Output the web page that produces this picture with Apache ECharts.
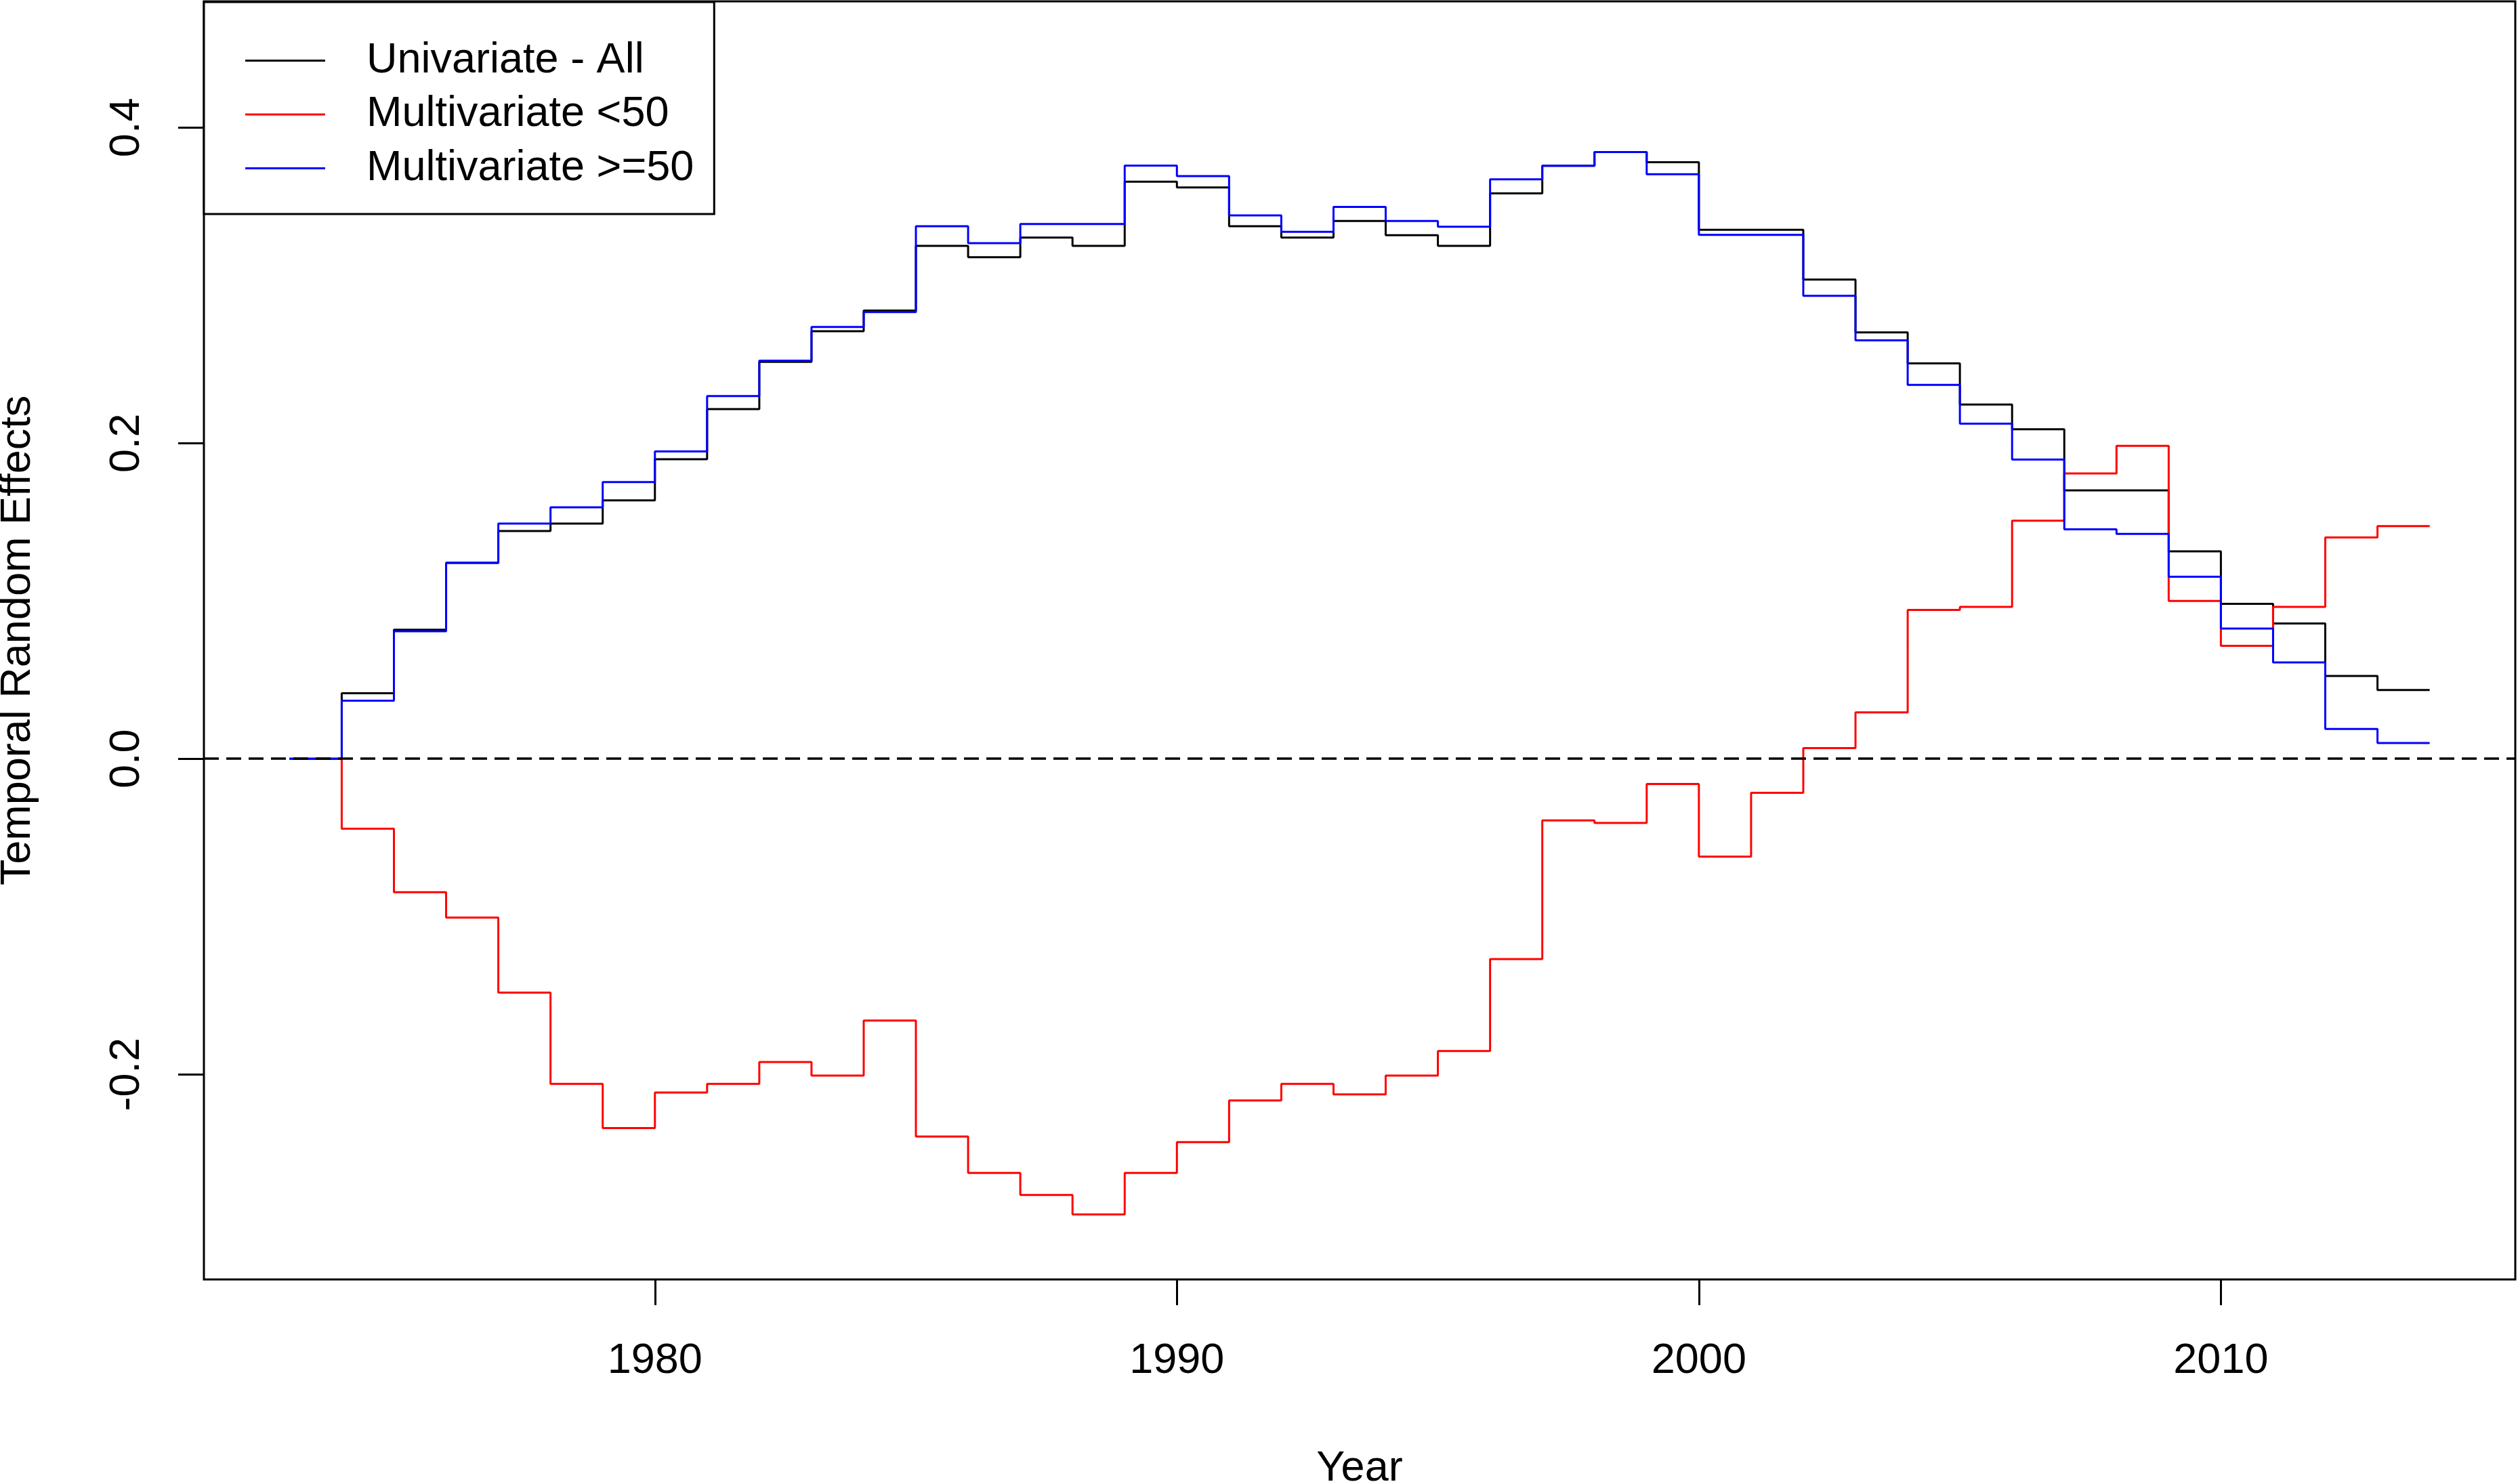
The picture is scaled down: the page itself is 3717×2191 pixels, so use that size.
<!DOCTYPE html>
<html>
<head>
<meta charset="utf-8">
<title>Temporal Random Effects</title>
<script src="https://cdn.jsdelivr.net/npm/echarts@6/dist/echarts.min.js"></script>
<style>
  html, body { margin: 0; padding: 0; background: #fff; }
  #chart { width: 3717px; height: 2191px; }
</style>
</head>
<body>
<div id="chart"></div>
<script>
// step data: value stored at a year is the level between the previous year and that year
var years = [1973, 1974, 1975, 1976, 1977, 1978, 1979, 1980, 1981, 1982, 1983, 1984, 1985, 1986,
  1987, 1988, 1989, 1990, 1991, 1992, 1993, 1994, 1995, 1996, 1997, 1998, 1999, 2000,
  2001, 2002, 2003, 2004, 2005, 2006, 2007, 2008, 2009, 2010, 2011, 2012, 2013, 2014]

var univariateAll = [0, 0, 0.0415, 0.0818, 0.1242, 0.1443, 0.1490, 0.1638, 0.1898, 0.2216,
  0.2515, 0.2710, 0.2840, 0.3250, 0.3179, 0.3303, 0.3250, 0.3657, 0.3621, 0.3375, 0.3303,
  0.3408, 0.3318, 0.3250, 0.3583, 0.3758, 0.3845, 0.3780, 0.3352, 0.3352, 0.3037, 0.2702,
  0.2506, 0.2245, 0.2088, 0.1701, 0.1701, 0.1314, 0.0982, 0.0857, 0.0525, 0.0436]

var multiLt50 = [0, 0, -0.0443, -0.0846, -0.1007, -0.1482, -0.2061, -0.2341, -0.2115, -0.2061,
  -0.1922, -0.2008, -0.1659, -0.2394, -0.2625, -0.2765, -0.2888, -0.2625, -0.2430, -0.2166,
  -0.2061, -0.2127, -0.2008, -0.1852, -0.1270, -0.0391, -0.0407, -0.0160, -0.0620, -0.0216,
  0.0068, 0.0294, 0.0943, 0.0963, 0.1509, 0.1808, 0.1983, 0.1000, 0.0716, 0.0963, 0.1402, 0.1474]

var multiGe50 = [0, 0, 0.0368, 0.0808, 0.1242, 0.1490, 0.1594, 0.1753, 0.1948, 0.2299,
  0.2523, 0.2736, 0.2831, 0.3375, 0.3268, 0.3389, 0.3389, 0.3759, 0.3693, 0.3444, 0.3339,
  0.3497, 0.3408, 0.3372, 0.3672, 0.3758, 0.3845, 0.3704, 0.3320, 0.3320, 0.2934, 0.2652,
  0.2369, 0.2124, 0.1896, 0.1454, 0.1425, 0.1154, 0.0825, 0.0611, 0.0189, 0.0100]

var xTicks = [1980, 1990, 2000, 2010]
var yTicks = [-0.2, 0.0, 0.2, 0.4]

var FONT = "'Liberation Sans', Arial, sans-serif"
var FS = 63

function pairs(vals) {
  return years.map(function (y, i) { return [y, vals[i]] })
}

function stepSeries(name, color, vals, z) {
  return {
    name: name,
    type: 'line',
    step: 'start',
    data: pairs(vals),
    color: color,
    showSymbol: false,
    symbol: 'none',
    z: z,
    lineStyle: { color: color, width: 3 }
  }
}

var chart = echarts.init(document.getElementById('chart'), null, { renderer: 'canvas' })

var blue = stepSeries('Multivariate >=50', '#0000FF', multiGe50, 4)
// dashed reference line at zero
blue.markLine = {
  silent: true,
  symbol: 'none',
  label: { show: false },
  lineStyle: { color: '#000', width: 3.5, type: [22, 11] },
  data: [{ yAxis: 0 }]
}

chart.setOption({
  animation: false,
  backgroundColor: '#fff',
  textStyle: { fontFamily: FONT },
  grid: {
    left: 301,
    top: 2,
    width: 3412,
    height: 1887,
    show: true,
    borderColor: '#000',
    borderWidth: 3,
    backgroundColor: 'transparent',
    containLabel: false,
    outerBoundsMode: 'none'
  },
  legend: {
    orient: 'vertical',
    left: 301,
    top: 3,
    padding: [55, 30, 36, 61],
    itemGap: 16.5,
    itemWidth: 118,
    itemHeight: 3,
    icon: 'rect',
    borderColor: '#000',
    borderWidth: 3,
    borderRadius: 0,
    backgroundColor: '#fff',
    selectedMode: false,
    itemStyle: { borderWidth: 0 },
    textStyle: {
      fontFamily: FONT,
      fontSize: FS,
      color: '#000',
      padding: [0, 0, 0, 56]
    },
    data: ['Univariate - All', 'Multivariate <50', 'Multivariate >=50']
  },
  xAxis: {
    type: 'value',
    min: 1971.36,
    max: 2015.64,
    name: 'Year',
    nameLocation: 'middle',
    nameGap: 248,
    nameTextStyle: { fontFamily: FONT, fontSize: FS, color: '#000' },
    splitLine: { show: false },
    axisLine: { show: false, onZero: false },
    axisTick: {
      show: true,
      customValues: xTicks,
      length: 38,
      lineStyle: { color: '#000', width: 3 }
    },
    axisLabel: {
      customValues: xTicks,
      margin: 89,
      fontFamily: FONT,
      fontSize: FS,
      color: '#000',
      formatter: function (v) { return String(v) }
    }
  },
  yAxis: {
    type: 'value',
    min: -0.33,
    max: 0.48,
    name: 'Temporal Random Effects',
    nameLocation: 'middle',
    nameGap: 243,
    nameRotate: 90,
    nameTextStyle: { fontFamily: FONT, fontSize: FS, color: '#000' },
    splitLine: { show: false },
    axisLine: { show: false, onZero: false },
    axisTick: {
      show: true,
      customValues: yTicks,
      length: 38,
      lineStyle: { color: '#000', width: 3 }
    },
    axisLabel: {
      customValues: yTicks,
      rotate: 90,
      margin: 82,
      fontFamily: FONT,
      fontSize: FS,
      color: '#000',
      formatter: function (v) { return v.toFixed(1) }
    }
  },
  series: [
    stepSeries('Univariate - All', '#000000', univariateAll, 2),
    stepSeries('Multivariate <50', '#FF0000', multiLt50, 3),
    blue
  ]
})
</script>
</body>
</html>
